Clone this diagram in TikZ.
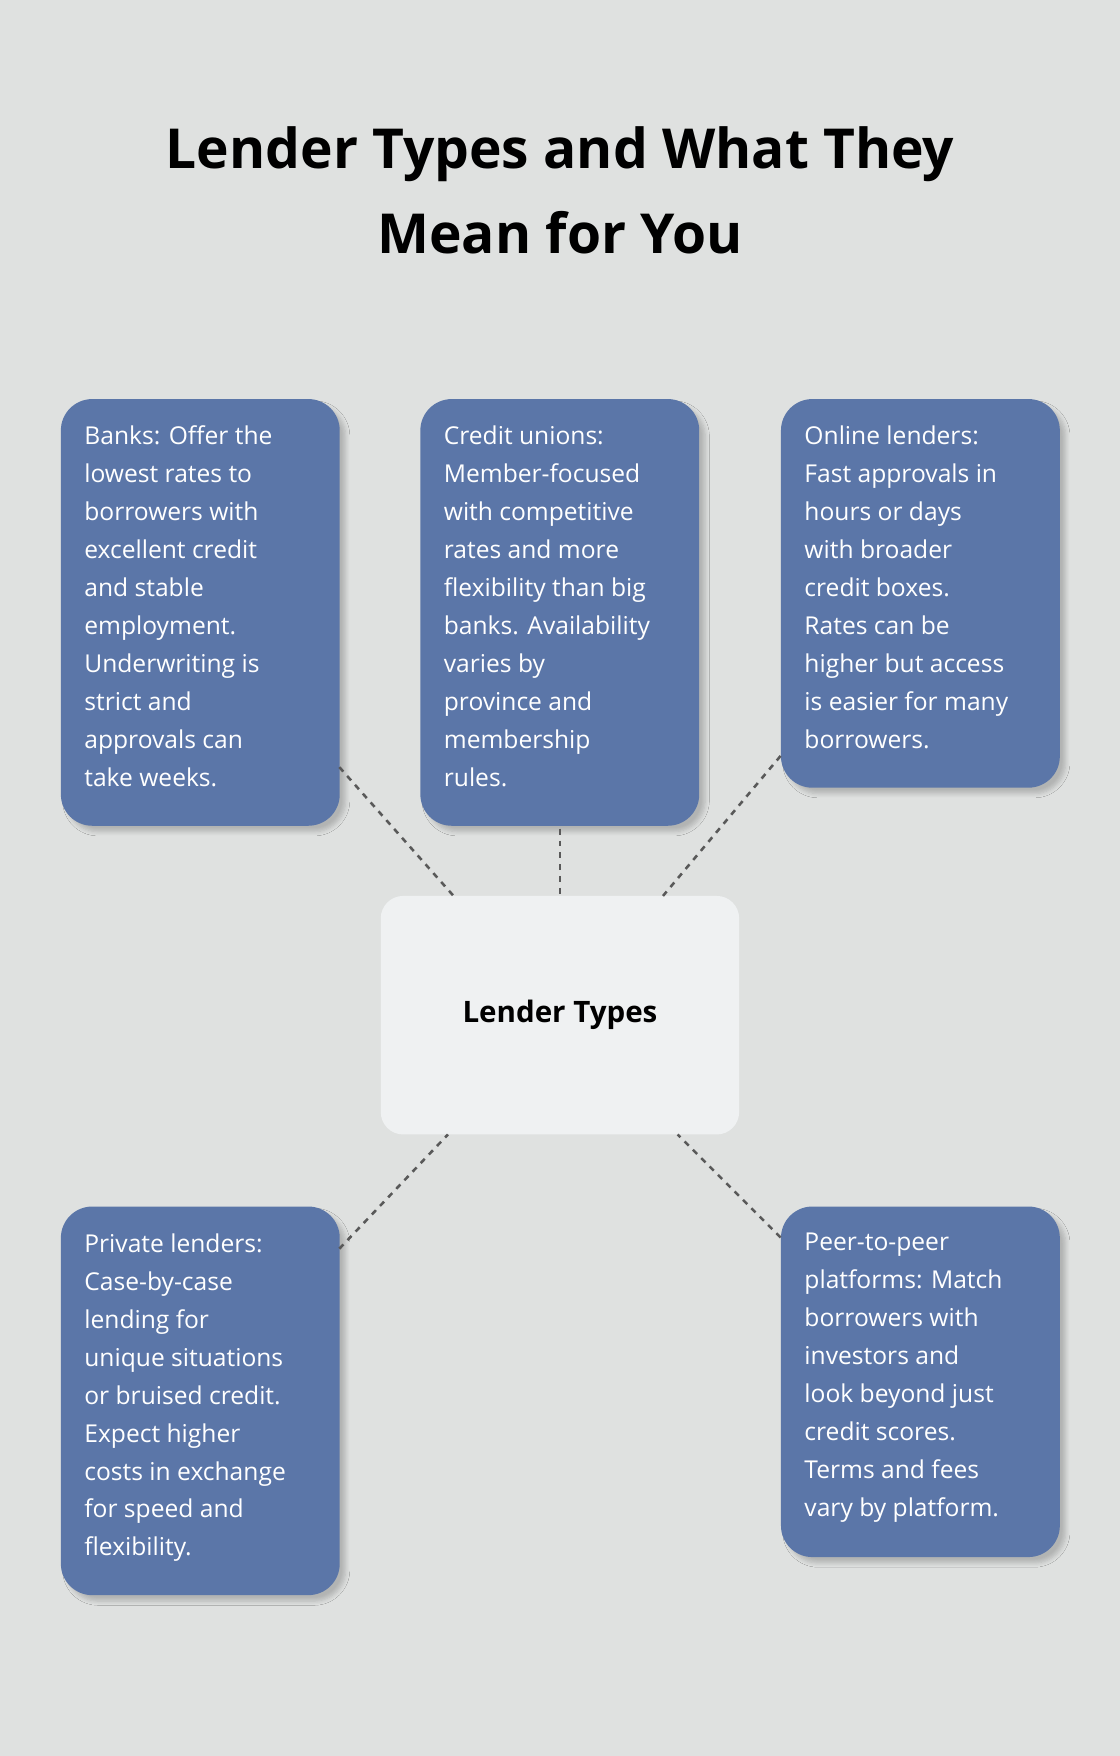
\documentclass[tikz,border=0pt]{standalone}
\usepackage{fontspec}
\setmainfont{Open Sans}
\usetikzlibrary{shadows.blur}
\definecolor{bgcol}{HTML}{DFE1E0}
\definecolor{cardcol}{HTML}{5B76A8}
\definecolor{hubcol}{HTML}{EFF1F2}
\tikzset{
  card/.style={fill=cardcol, rounded corners=0.56cm, anchor=north west, minimum width=4.98cm, inner sep=0pt,
    blur shadow={shadow xshift=3pt, shadow yshift=-3pt, shadow opacity=20, shadow blur steps=6}},
  cardtext/.style={anchor=north west, inner sep=0pt, text=white, align=left, font=\fontsize{12.5}{19.3}\selectfont},
  link/.style={draw=black!65, dashed, line width=1.3pt, dash pattern=on 3pt off 3pt}
}
\begin{document}
\begin{tikzpicture}
  \fill[bgcol] (0,0) rectangle (20,-31.36);
  \useasboundingbox (0,0) rectangle (20,-31.36);

  % title
  \node[font=\bfseries\fontsize{28}{43}\selectfont, align=center] (title) at (10,-3.4)
    {Lender Types and What They\\Mean for You};

  % cards
  \node[card, minimum height=7.62cm] (banks) at (1.08,-7.12) {};
  \node[card, minimum height=7.62cm] (unions) at (7.5,-7.12) {};
  \node[card, minimum height=6.94cm] (online) at (13.94,-7.12) {};
  \node[card, minimum height=6.94cm] (private) at (1.08,-21.54) {};
  \node[card, minimum height=6.26cm] (peer) at (13.94,-21.54) {};

  \node[fill=hubcol, rounded corners=0.4cm, minimum width=6.4cm, minimum height=4.26cm,
    font=\bfseries\fontsize{15}{18}\selectfont] (hub) at (10,-18.13) {Lender Types};

  \node[cardtext] (bankstxt) at ([shift={(0.42,-0.48)}]banks.north west)
    {Banks: Offer the\\lowest rates to\\borrowers with\\excellent credit\\and stable\\employment.\\Underwriting is\\strict and\\approvals can\\take weeks.};
  \node[cardtext] (unionstxt) at ([shift={(0.42,-0.48)}]unions.north west)
    {Credit unions:\\Member-focused\\with competitive\\rates and more\\flexibility than big\\banks. Availability\\varies by\\province and\\membership\\rules.};
  \node[cardtext] (onlinetxt) at ([shift={(0.42,-0.48)}]online.north west)
    {Online lenders:\\Fast approvals in\\hours or days\\with broader\\credit boxes.\\Rates can be\\higher but access\\is easier for many\\borrowers.};
  \node[cardtext] (privatetxt) at ([shift={(0.42,-0.48)}]private.north west)
    {Private lenders:\\Case-by-case\\lending for\\unique situations\\or bruised credit.\\Expect higher\\costs in exchange\\for speed and\\flexibility.};
  \node[cardtext] (peertxt) at ([shift={(0.42,-0.48)}]peer.north west)
    {Peer-to-peer\\platforms: Match\\borrowers with\\investors and\\look beyond just\\credit scores.\\Terms and fees\\vary by platform.};

  % connectors
  \coordinate (b1) at (6.06,-13.7);  \coordinate (h1) at (8.1,-16);
  \coordinate (u1) at (10,-14.8);    \coordinate (h2) at (10,-16);
  \coordinate (o1) at (13.94,-13.5); \coordinate (h3) at (11.84,-16);
  \coordinate (p1) at (6.06,-22.3);  \coordinate (h4) at (8,-20.26);
  \coordinate (q1) at (13.94,-22.1); \coordinate (h5) at (12.1,-20.26);
  \draw[link] (b1) -- (h1);
  \draw[link] (u1) -- (h2);
  \draw[link] (o1) -- (h3);
  \draw[link] (p1) -- (h4);
  \draw[link] (q1) -- (h5);
\end{tikzpicture}
\end{document}
